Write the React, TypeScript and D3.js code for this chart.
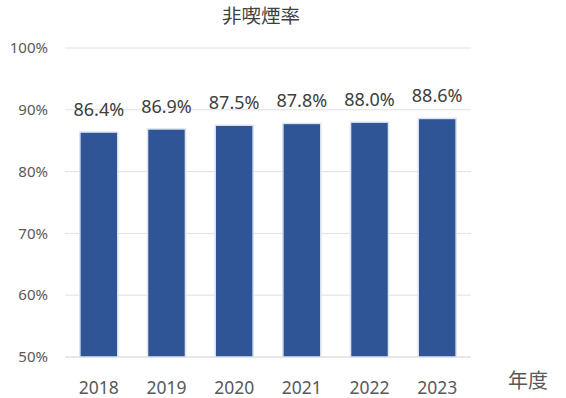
import React, { useRef, useEffect } from "react";
import * as d3 from "d3";

const years = ["2018", "2019", "2020", "2021", "2022", "2023"];
const rates = [86.4, 86.9, 87.5, 87.8, 88.0, 88.6];
const yTicks = [50, 60, 70, 80, 90, 100];

export default function App() {
  const svgRef = useRef<SVGSVGElement>(null);

  useEffect(() => {
    const svg = d3.select(svgRef.current);
    svg.selectAll("*").remove();

    const width = 566;
    const height = 398;
    const margin = { top: 48, right: 95, bottom: 41, left: 65 };
    const innerW = width - margin.left - margin.right;
    const innerH = height - margin.top - margin.bottom;
    const font = "'Noto Sans', 'Noto Sans CJK JP', sans-serif";

    svg.attr("viewBox", `0 0 ${width} ${height}`);

    const g = svg.append("g").attr("transform", `translate(${margin.left},${margin.top})`);

    const x = d3.scaleBand().domain(years).range([0, innerW]).paddingInner(0.44).paddingOuter(0.22);
    const y = d3.scaleLinear().domain([50, 100]).range([innerH, 0]);

    // gridlines
    g.selectAll("line.grid")
      .data(yTicks)
      .join("line")
      .attr("class", "grid")
      .attr("x1", 0)
      .attr("x2", innerW)
      .attr("y1", (d) => y(d))
      .attr("y2", (d) => y(d))
      .attr("stroke", (d) => (d === 50 ? "#d0d0d0" : "#e0e0e0"))
      .attr("stroke-width", 1);

    // y labels
    g.selectAll("text.ylab")
      .data(yTicks)
      .join("text")
      .attr("class", "ylab")
      .attr("x", -17)
      .attr("y", (d) => y(d))
      .attr("dy", "0.35em")
      .attr("text-anchor", "end")
      .attr("font-family", font)
      .attr("font-size", 15)
      .attr("fill", "#595959")
      .text((d) => `${d}%`);

    // bars
    g.selectAll("rect.bar")
      .data(rates)
      .join("rect")
      .attr("class", "bar")
      .attr("x", (_, i) => x(years[i])!)
      .attr("y", (d) => y(d))
      .attr("width", x.bandwidth())
      .attr("height", (d) => innerH - y(d))
      .attr("fill", "#2f5597")
      .attr("stroke", "#dbe3ee")
      .attr("stroke-width", 1.5);

    // data labels
    g.selectAll("text.val")
      .data(rates)
      .join("text")
      .attr("class", "val")
      .attr("x", (_, i) => x(years[i])! + x.bandwidth() / 2)
      .attr("y", (d) => y(d) - 16)
      .attr("text-anchor", "middle")
      .attr("font-family", font)
      .attr("font-size", 18)
      .attr("fill", "#404040")
      .text((d) => `${d.toFixed(1)}%`);

    // x labels
    g.selectAll("text.xlab")
      .data(years)
      .join("text")
      .attr("class", "xlab")
      .attr("x", (d) => x(d)! + x.bandwidth() / 2)
      .attr("y", innerH + 37)
      .attr("text-anchor", "middle")
      .attr("font-family", font)
      .attr("font-size", 17.5)
      .attr("fill", "#595959")
      .text((d) => d);

    // axis title
    svg.append("text")
      .attr("x", 508)
      .attr("y", 388)
      .attr("font-family", "'Noto Sans CJK JP', sans-serif")
      .attr("font-size", 20)
      .attr("fill", "#595959")
      .text("年度");

    // chart title
    svg.append("text")
      .attr("x", 261)
      .attr("y", 23)
      .attr("text-anchor", "middle")
      .attr("font-family", "'Noto Sans CJK JP', sans-serif")
      .attr("font-size", 19.5)
      .attr("fill", "#404040")
      .text("非喫煙率");
  }, []);

  return (
    <svg
      ref={svgRef}
      width={566}
      height={398}
      style={{ position: "absolute", left: 0, top: 0, background: "#fff" }}
    />
  );
}
